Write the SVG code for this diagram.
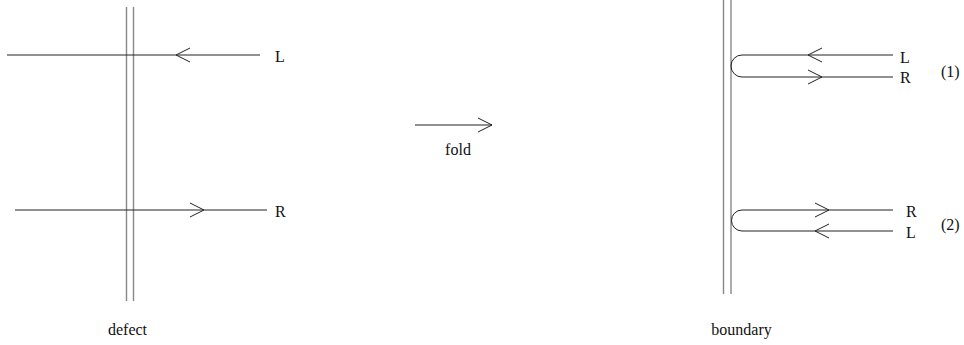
<svg xmlns="http://www.w3.org/2000/svg" width="964" height="345" viewBox="0 0 964 345">
<style>
.wall{stroke:#888;stroke-width:1.4;fill:none}
.ln{stroke:#222;stroke-width:1;fill:none}
.ah{stroke:#222;stroke-width:1;fill:none}
text{font-family:"Liberation Serif","Times New Roman",serif;font-size:16px;fill:#111}
</style>
<rect width="964" height="345" fill="#fff"/>
<g id="defect">
<line class="wall" x1="126.5" y1="7" x2="126.5" y2="301"/>
<line class="wall" x1="133.5" y1="7" x2="133.5" y2="301"/>
<text x="127.5" y="335" text-anchor="middle">defect</text>
</g>
<g id="boundary">
<line class="wall" x1="723.5" y1="0" x2="723.5" y2="294"/>
<line class="wall" x1="731" y1="0" x2="731" y2="294"/>
<text x="741.5" y="335" text-anchor="middle">boundary</text>
</g>
<g id="connectors">
<line class="ln" x1="7" y1="55" x2="260" y2="55"/>
<polyline class="ah" points="190,48 176,55 190,62"/>
<line class="ln" x1="15" y1="210" x2="267" y2="210"/>
<polyline class="ah" points="190,203 204,210 190,217"/>
<line class="ln" x1="415" y1="125" x2="492" y2="125"/>
<polyline class="ah" points="478,118 492,125 478,132"/>
<path class="ln" d="M893,55 H742 A11,11 0 0 0 742,77 H893"/>
<polyline class="ah" points="822,48 808,55 822,62"/>
<polyline class="ah" points="808,70 822,77 808,84"/>
<path class="ln" d="M893,210 H742 A10.5,10.5 0 0 0 742,231 H893"/>
<polyline class="ah" points="815,203 829,210 815,217"/>
<polyline class="ah" points="829,224 815,231 829,238"/>
</g>
<g id="labels">
<text x="275" y="62">L</text>
<text x="275" y="217">R</text>
<text x="458" y="155" text-anchor="middle">fold</text>
<text x="900" y="63">L</text>
<text x="900" y="83">R</text>
<text x="941" y="77">(1)</text>
<text x="906" y="217">R</text>
<text x="906" y="238">L</text>
<text x="941" y="230">(2)</text>
</g>
</svg>
